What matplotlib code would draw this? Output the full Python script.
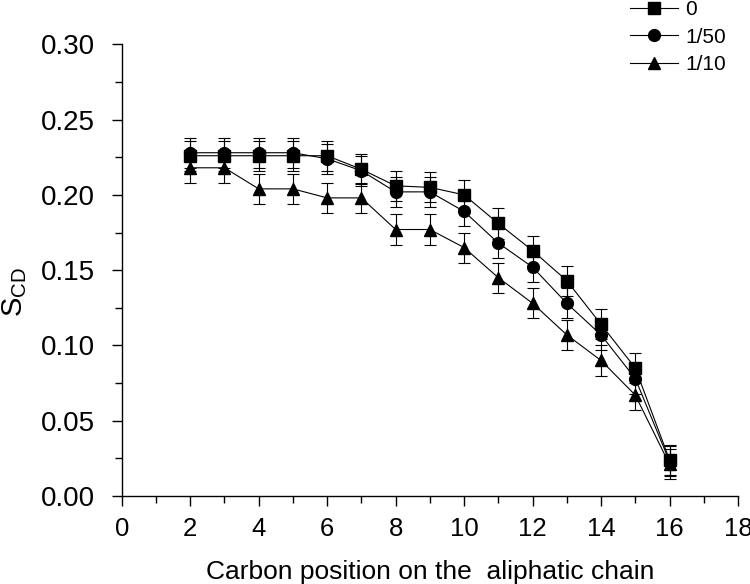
import matplotlib

matplotlib.use("Agg")
import numpy as np
from matplotlib import pyplot as plt
from matplotlib.ticker import MultipleLocator

plt.rcParams["font.family"] = ["Liberation Sans", "DejaVu Sans"]
plt.rcParams["mathtext.fontset"] = "custom"
plt.rcParams["mathtext.rm"] = "Liberation Sans"

# carbon positions along the chain
carbon = [2, 3, 4, 5, 6, 7, 8, 9, 10, 11, 12, 13, 14, 15, 16]

# order parameter S_CD for each ratio
scd_0 = [0.226, 0.226, 0.226, 0.226, 0.226, 0.217, 0.206, 0.205, 0.200,
         0.181, 0.163, 0.143, 0.114, 0.085, 0.024]
scd_1_50 = [0.228, 0.228, 0.228, 0.228, 0.224, 0.216, 0.202, 0.202, 0.189,
            0.168, 0.152, 0.128, 0.107, 0.078, 0.023]
scd_1_10 = [0.218, 0.218, 0.204, 0.204, 0.198, 0.198, 0.177, 0.177, 0.165,
            0.145, 0.128, 0.107, 0.090, 0.067, 0.021]
scd_err = 0.010

labels = ["0", "1/50", "1/10"]
markers = ["s", "o", "^"]
msizes = [8, 8.5, 9]

fig = plt.figure(figsize=(7.5, 5.84), dpi=100)
ax = fig.add_axes([0.1623, 0.1507, 0.984 - 0.1623, 0.9241 - 0.1507])

handles = []
for vals, lab, mk, ms in zip([scd_0, scd_1_50, scd_1_10], labels, markers, msizes):
    ax.errorbar(carbon, vals, yerr=scd_err, fmt="none", ecolor="k",
                elinewidth=0.8, capsize=4, capthick=0.8)
    (ln,) = ax.plot(carbon, vals, color="k", lw=0.8, marker=mk, markersize=ms,
                    label=lab)
    handles.append(ln)

ax.set_xlim(0, 18)
ax.set_ylim(0, 0.30)
ax.xaxis.set_major_locator(MultipleLocator(2))
ax.xaxis.set_minor_locator(MultipleLocator(1))
ax.yaxis.set_major_locator(MultipleLocator(0.05))
ax.yaxis.set_minor_locator(MultipleLocator(0.025))
ax.yaxis.set_major_formatter(plt.FormatStrFormatter("%.2f"))

for side in ["top", "right"]:
    ax.spines[side].set_visible(False)
for side in ["left", "bottom"]:
    ax.spines[side].set_linewidth(1.0)

ax.tick_params(axis="both", which="major", direction="out", length=7, width=1)
ax.tick_params(axis="both", which="minor", direction="out", length=5, width=1)
ax.tick_params(axis="y", which="major", labelsize=20, pad=12)
ax.tick_params(axis="x", which="major", labelsize=18.5, pad=8)

ax.set_xlabel("Carbon position on the  aliphatic chain", fontsize=19, labelpad=14)
fig.text(15 / 750, 1 - 292 / 584, r"$\mathrm{S_{CD}}$", rotation=90,
         fontsize=21, ha="center", va="center")

fig.legend(handles=handles, labels=labels, loc="upper left",
           bbox_to_anchor=(630 / 750, 1.0), frameon=False, fontsize=15,
           borderpad=0, borderaxespad=0, handlelength=2.3, handletextpad=0.35,
           labelspacing=0.42)

fig.savefig("out.png", dpi=100)
